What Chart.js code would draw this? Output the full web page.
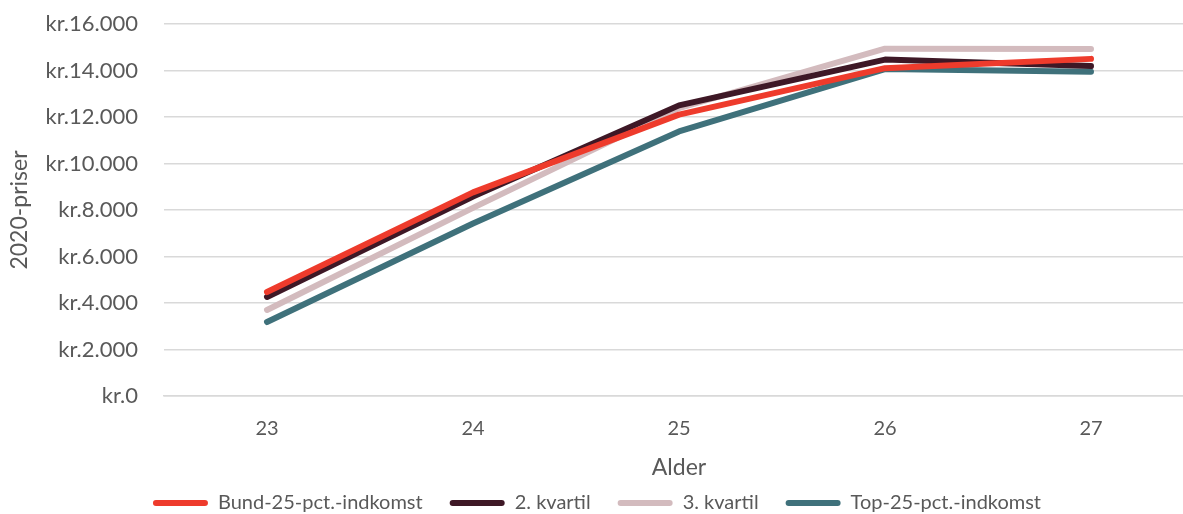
<!DOCTYPE html>
<html>
<head>
<meta charset="utf-8">
<script src="https://cdn.jsdelivr.net/npm/chart.js@4.4.1/dist/chart.umd.min.js"></script>
<style>
html,body{margin:0;padding:0;background:#fff;overflow:hidden;}
#wrap{width:1194px;height:514px;}
</style>
</head>
<body>
<div id="wrap"><canvas id="c" width="1194" height="514"></canvas></div>
<script>
const categories = ["23", "24", "25", "26", "27"];
const bund = [4470, 8760, 12100, 14100, 14500];
const kvartil2 = [4260, 8580, 12500, 14470, 14190];
const kvartil3 = [3700, 8090, 12380, 14940, 14930];
const top25 = [3180, 7420, 11380, 14060, 13950];
const seriesNames = ["Bund-25-pct.-indkomst", "2. kvartil", "3. kvartil", "Top-25-pct.-indkomst"];
const yTicks = [0, 2000, 4000, 6000, 8000, 10000, 12000, 14000, 16000];

const colors = ["#EE3B2C", "#3E1826", "#D3BBBE", "#3F717B"];
const FONT = "Lato";
const TXT = "#595959";

function fmt(v){
  const s = String(Math.round(v));
  return "kr." + s.replace(/\B(?=(\d{3})+(?!\d))/g, ".");
}

const data = {
  labels: categories,
  datasets: [bund, kvartil2, kvartil3, top25].map((d, i) => ({
    label: seriesNames[i],
    data: d,
    borderColor: colors[i],
    backgroundColor: colors[i],
    borderWidth: 6,
    borderCapStyle: "round",
    borderJoinStyle: "round",
    pointRadius: 0,
    tension: 0,
    fill: false
  }))
};

new Chart(document.getElementById("c"), {
  type: "line",
  data: data,
  options: {
    responsive: false,
    animation: false,
    layout: { padding: { top: 24, left: 0, right: 0, bottom: -9 } },
    plugins: {
      tooltip: { enabled: false },
      legend: {
        position: "bottom",
        labels: {
          boxWidth: 55,
          boxHeight: 6,
          useBorderRadius: true,
          borderRadius: 3,
          padding: 27,
          color: TXT,
          font: { family: FONT, size: 20 },
          generateLabels: (chart) => chart.data.datasets.map((ds, i) => ({
            text: ds.label,
            fillStyle: ds.borderColor,
            strokeStyle: ds.borderColor,
            lineWidth: 0,
            datasetIndex: i,
            borderRadius: 3,
            fontColor: TXT
          }))
        }
      }
    },
    scales: {
      x: {
        offset: true,
        grid: { display: false, drawTicks: false },
        border: { display: true, color: "#D9D9D9", width: 1.5 },
        ticks: { color: TXT, font: { family: FONT, size: 20 }, padding: 21 },
        title: { display: true, text: "Alder", color: TXT, font: { family: FONT, size: 23 }, padding: { top: 0, bottom: -15 } },
        afterFit: (s) => { s.height = 70; }
      },
      y: {
        min: 0, max: 16000,
        afterBuildTicks: (s) => { s.ticks = yTicks.map(v => ({ value: v })); },
        grid: { color: "#D9D9D9", lineWidth: 1.5, drawTicks: true, tickLength: 26, tickColor: "rgba(0,0,0,0)" },
        border: { display: false },
        ticks: { color: TXT, font: { family: FONT, size: 22 }, padding: 0, callback: (v) => fmt(v) },
        title: { display: true, text: "2020-priser", color: TXT, font: { family: FONT, size: 23 }, padding: { top: 6, bottom: 4 } },
        afterFit: (s) => { s.width = 164; }
      }
    }
  }
});
</script>
</body>
</html>
